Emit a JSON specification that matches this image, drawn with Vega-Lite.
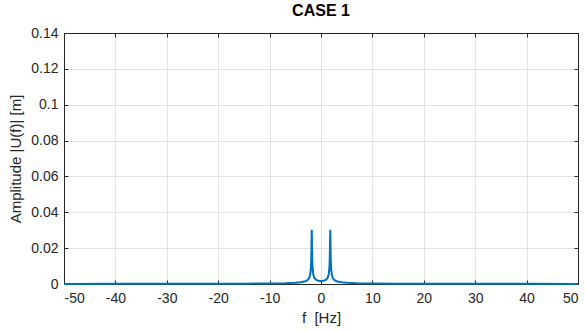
{
  "$schema": "https://vega.github.io/schema/vega-lite/v6.json",
  "autosize": {"type": "none"},
  "width": 514,
  "height": 251,
  "padding": {"left": 64, "top": 33, "right": 8, "bottom": 47},
  "background": "#ffffff",
  "title": {"text": "CASE 1", "fontSize": 16, "fontWeight": "bold", "font": "Liberation Sans", "color": "#000000", "offset": 7, "anchor": "middle"},
  "config": {
    "font": "Liberation Sans",
    "view": {"stroke": "#262626", "strokeWidth": 1}
  },
  "data": {"values": [
    {"f": -50, "a": 0.00006}, {"f": -40, "a": 0.000075}, {"f": -30, "a": 0.0001}, {"f": -20, "a": 0.00015},
    {"f": -15, "a": 0.0002}, {"f": -10, "a": 0.00031}, {"f": -7, "a": 0.00046}, {"f": -5, "a": 0.00069},
    {"f": -4, "a": 0.00094}, {"f": -3, "a": 0.00156}, {"f": -2.6, "a": 0.0022}, {"f": -2.3, "a": 0.0033},
    {"f": -2.1, "a": 0.0053}, {"f": -2.0, "a": 0.0077}, {"f": -1.95, "a": 0.0099}, {"f": -1.9, "a": 0.0138},
    {"f": -1.85, "a": 0.0216}, {"f": -1.8, "a": 0.0303}, {"f": -1.75, "a": 0.0216}, {"f": -1.7, "a": 0.0138},
    {"f": -1.65, "a": 0.0099}, {"f": -1.6, "a": 0.0077}, {"f": -1.5, "a": 0.0054}, {"f": -1.3, "a": 0.0035},
    {"f": -1.0, "a": 0.0024}, {"f": -0.6, "a": 0.0019}, {"f": -0.3, "a": 0.0017}, {"f": 0, "a": 0.00167},
    {"f": 0.3, "a": 0.0017}, {"f": 0.6, "a": 0.0019}, {"f": 1.0, "a": 0.0024}, {"f": 1.3, "a": 0.0035},
    {"f": 1.5, "a": 0.0054}, {"f": 1.6, "a": 0.0077}, {"f": 1.65, "a": 0.0099}, {"f": 1.7, "a": 0.0138},
    {"f": 1.75, "a": 0.0216}, {"f": 1.8, "a": 0.0303}, {"f": 1.85, "a": 0.0216}, {"f": 1.9, "a": 0.0138},
    {"f": 1.95, "a": 0.0099}, {"f": 2.0, "a": 0.0077}, {"f": 2.1, "a": 0.0053}, {"f": 2.3, "a": 0.0033},
    {"f": 2.6, "a": 0.0022}, {"f": 3, "a": 0.00156}, {"f": 4, "a": 0.00094}, {"f": 5, "a": 0.00069},
    {"f": 7, "a": 0.00046}, {"f": 10, "a": 0.00031}, {"f": 15, "a": 0.0002}, {"f": 20, "a": 0.00015},
    {"f": 30, "a": 0.0001}, {"f": 40, "a": 0.000075}, {"f": 50, "a": 0.00006}
  ]},
  "layer": [
    {
      "mark": {"type": "line", "color": "#0072BD", "strokeWidth": 2, "interpolate": "linear"},
      "encoding": {
        "x": {"field": "f", "type": "quantitative", "scale": {"domain": [-50, 50], "nice": false},
          "axis": {"title": "f\u00a0\u00a0[Hz]", "values": [-50,-40,-30,-20,-10,0,10,20,30,40,50], "grid": true, "gridColor": "#e3e3e3", "gridOpacity": 1,
            "labelExpr": "replace(datum.label, '\u2212', '-')",
            "domainColor": "#262626", "tickColor": "#262626", "tickSize": -4, "labelPadding": 11, "labelFontSize": 14, "labelColor": "#262626",
            "titleFontSize": 15, "titleFontWeight": "normal", "titleColor": "#262626", "titlePadding": 5, "labelFont": "Liberation Sans", "titleFont": "Liberation Sans"}},
        "y": {"field": "a", "type": "quantitative", "scale": {"domain": [0, 0.14], "nice": false},
          "axis": {"title": "Amplitude |U(f)| [m]", "values": [0,0.02,0.04,0.06,0.08,0.1,0.12,0.14], "format": "~g", "grid": true, "gridColor": "#e3e3e3", "gridOpacity": 1,
            "domainColor": "#262626", "tickColor": "#262626", "tickSize": -4, "labelPadding": 10, "labelFontSize": 14, "labelColor": "#262626",
            "titleFontSize": 15, "titleFontWeight": "normal", "titleColor": "#262626", "titlePadding": 7, "labelFont": "Liberation Sans", "titleFont": "Liberation Sans"}}
      }
    },
    {
      "mark": {"type": "line", "strokeOpacity": 0},
      "encoding": {
        "x": {"field": "f", "type": "quantitative",
          "axis": {"orient": "top", "title": null, "labels": false, "grid": false, "values": [-50,-40,-30,-20,-10,0,10,20,30,40,50], "domainColor": "#262626", "tickColor": "#262626", "tickSize": -4}},
        "y": {"field": "a", "type": "quantitative",
          "axis": {"orient": "right", "title": null, "labels": false, "grid": false, "values": [0,0.02,0.04,0.06,0.08,0.1,0.12,0.14], "domainColor": "#262626", "tickColor": "#262626", "tickSize": -4}}
      }
    }
  ],
  "resolve": {"axis": {"x": "independent", "y": "independent"}}
}
